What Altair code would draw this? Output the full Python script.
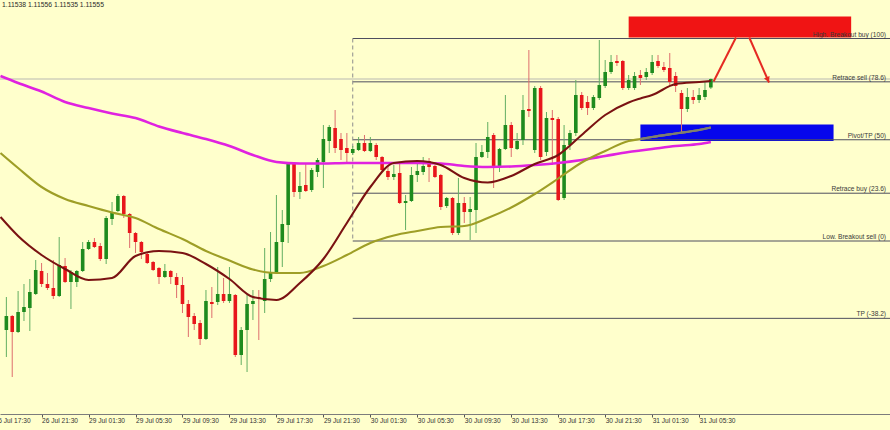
import json
import altair as alt
import pandas as pd

POINT = 1e-5  # price step (5th decimal)

# ---------------------------------------------------------------
# EURUSD M30 candles; bar 0 = 26 Jul 17:30, bar 2 is the first one drawn
# prices are kept in points (1.11555 -> 111555)
# ---------------------------------------------------------------
bars = list(range(2, 123))

open_pts = [
    111053, 111081, 111049, 111089, 111097, 111125, 111171, 111145, 111137, 111121,
    111181, 111149, 111149, 111171, 111215, 111229, 111221, 111195, 111275, 111291,
    111321, 111285, 111247, 111229, 111205, 111189, 111177, 111159, 111171, 111159,
    111143, 111105, 111081, 111067, 111035, 111109, 111109, 111125, 111111, 111123,
    111003, 111053, 111105, 111119, 111111, 111155, 111169, 111229, 111263, 111387,
    111329, 111343, 111333, 111369, 111389, 111431, 111457, 111435, 111417, 111407,
    111413, 111427, 111411, 111423, 111399, 111371, 111359, 111367, 111307, 111311,
    111363, 111369, 111391, 111381, 111363, 111301, 111317, 111247, 111307, 111289,
    111293, 111399, 111409, 111443, 111377, 111415, 111463, 111415, 111433, 111495,
    111413, 111537, 111409, 111477, 111475, 111317, 111423, 111447, 111523, 111509,
    111497, 111517, 111541, 111569, 111591, 111591, 111537, 111537, 111563, 111559,
    111567, 111591, 111579, 111577, 111561, 111527, 111495, 111519, 111513, 111519,
    111538,
]
high_pts = [
    111119, 111083, 111131, 111145, 111155, 111193, 111187, 111167, 111193, 111239,
    111197, 111173, 111173, 111229, 111233, 111237, 111227, 111281, 111309, 111325,
    111323, 111287, 111249, 111231, 111207, 111191, 111179, 111185, 111173, 111167,
    111159, 111113, 111087, 111073, 111133, 111139, 111179, 111157, 111179, 111125,
    111059, 111123, 111133, 111133, 111217, 111249, 111323, 111293, 111389, 111389,
    111369, 111387, 111377, 111397, 111463, 111463, 111493, 111447, 111447, 111421,
    111439, 111443, 111439, 111427, 111401, 111383, 111383, 111387, 111323, 111379,
    111389, 111399, 111397, 111383, 111365, 111319, 111319, 111357, 111319, 111319,
    111427, 111423, 111469, 111447, 111417, 111523, 111469, 111447, 111523, 111613,
    111541, 111541, 111489, 111493, 111479, 111463, 111453, 111553, 111529, 111521,
    111523, 111633, 111593, 111603, 111603, 111593, 111563, 111569, 111573, 111577,
    111603, 111603, 111589, 111607, 111569, 111533, 111537, 111533, 111537, 111549,
    111556,
]
low_pts = [
    110999, 110959, 111047, 111071, 111051, 111123, 111139, 111133, 111115, 111119,
    111147, 111095, 111139, 111169, 111213, 111217, 111191, 111185, 111263, 111289,
    111277, 111217, 111207, 111195, 111185, 111171, 111145, 111157, 111145, 111117,
    111087, 111039, 111053, 111023, 111033, 111077, 111103, 111107, 111107, 110999,
    110983, 110969, 111073, 111033, 111087, 111149, 111167, 111179, 111227, 111319,
    111315, 111329, 111329, 111359, 111337, 111407, 111407, 111393, 111389, 111403,
    111411, 111409, 111409, 111393, 111369, 111353, 111353, 111305, 111253, 111309,
    111349, 111363, 111349, 111357, 111293, 111297, 111243, 111243, 111267, 111233,
    111247, 111397, 111397, 111337, 111369, 111413, 111399, 111413, 111423, 111479,
    111407, 111393, 111401, 111383, 111311, 111313, 111413, 111441, 111493, 111483,
    111493, 111513, 111537, 111565, 111581, 111533, 111533, 111533, 111543, 111553,
    111563, 111577, 111569, 111543, 111529, 111449, 111489, 111505, 111507, 111513,
    111535,
]
close_pts = [
    111081, 111049, 111089, 111099, 111129, 111173, 111145, 111137, 111121, 111183,
    111149, 111169, 111171, 111215, 111229, 111219, 111195, 111277, 111289, 111321,
    111285, 111247, 111229, 111209, 111187, 111173, 111159, 111171, 111159, 111143,
    111105, 111079, 111065, 111035, 111111, 111105, 111125, 111111, 111125, 111003,
    111053, 111105, 111111, 111117, 111155, 111167, 111229, 111265, 111387, 111329,
    111341, 111331, 111373, 111393, 111435, 111459, 111417, 111413, 111407, 111415,
    111427, 111411, 111427, 111399, 111373, 111359, 111365, 111307, 111311, 111363,
    111371, 111381, 111379, 111359, 111299, 111317, 111247, 111307, 111289, 111295,
    111399, 111409, 111439, 111377, 111415, 111463, 111417, 111431, 111493, 111491,
    111537, 111399, 111477, 111473, 111313, 111423, 111447, 111523, 111497, 111497,
    111519, 111543, 111569, 111589, 111587, 111537, 111553, 111561, 111557, 111569,
    111589, 111581, 111573, 111549, 111541, 111495, 111519, 111513, 111523, 111533,
    111555,
]

# moving averages sampled at these bars
ma_bars = [1, 4, 8, 12, 16, 20, 24, 28, 32, 36, 40, 44, 48, 52, 56, 60, 64, 68,
           72, 76, 80, 84, 88, 92, 96, 100, 104, 108, 110, 112, 116, 120, 122]
ma_slow_pts = [111561, 111547, 111530, 111509, 111497, 111486, 111477, 111460, 111447,
               111435, 111421, 111403, 111389, 111386, 111386, 111387, 111387, 111387,
               111387, 111386, 111381, 111379, 111380, 111383, 111387, 111393, 111401,
               111409, 111412, 111415, 111421, 111425, 111429]
ma_mid_pts = [111407, 111377, 111339, 111315, 111301, 111288, 111277, 111255, 111235,
              111211, 111192, 111174, 111167, 111167, 111181, 111203, 111227, 111242,
              111251, 111259, 111261, 111277, 111298, 111325, 111356, 111388, 111411,
              111431, 111435, 111439, 111446, 111453, 111458]
ma_fast_pts = [111279, 111241, 111203, 111175, 111153, 111157, 111201, 111211, 111207,
               111185, 111155, 111119, 111113, 111147, 111195, 111267, 111339, 111387,
               111391, 111383, 111357, 111348, 111361, 111385, 111403, 111443, 111483,
               111508, 111516, 111523, 111545, 111549, 111551]

# time axis: one label every 8 bars (4 hours)
time_labels = ["26 Jul 17:30", "26 Jul 21:30", "29 Jul 01:30", "29 Jul 05:30",
               "29 Jul 09:30", "29 Jul 13:30", "29 Jul 17:30", "29 Jul 21:30",
               "30 Jul 01:30", "30 Jul 05:30", "30 Jul 09:30", "30 Jul 13:30",
               "30 Jul 17:30", "30 Jul 21:30", "31 Jul 01:30", "31 Jul 05:30"]
tick_bars = list(range(0, 121, 8))

# Fibonacci grid anchored on bar 61
fib_start_bar = 61
fib_high_pts = 111636
fib_low_pts = 111231
fib_ratios = [100, 78.6, 50, 23.6, 0, -38.2]
fib_names = ["High. Breakout buy", "Retrace sell", "Pivot/TP", "Retrace buy",
             "Low. Breakout sell", "TP"]

# drawn zones and the expected path
sell_zone = {"bar0": 108.0, "bar1": 145.9, "top": 111680, "bottom": 111638}
buy_zone = {"bar0": 110.0, "bar1": 142.9, "top": 111464, "bottom": 111431}
path_bar_from = [122.47, 128.54]
path_bar_to = [126.28, 131.91]
path_from_pts = [111550, 111638]
path_to_pts = [111638, 111548]

# ---------------------------------------------------------------
BG = "#FFFFCC"
UP, DOWN = "#1E8B1E", "#E8161B"
UP_WICK, DOWN_WICK = "#62AE62", "#DE6E6E"
ARROW = "#E52A22"
FONT = "Liberation Sans"

W, H = 890, 414
BAR_PX = 5.9375
BAR0_PX = -10.5
TOP_PTS = 111713
PTS_PER_PX = 2


def px(pts):
    return [round(p * POINT, 5) for p in pts]


candles = pd.DataFrame({
    "bar": bars,
    "open": px(open_pts),
    "high": px(high_pts),
    "low": px(low_pts),
    "close": px(close_pts),
})


def ma_frame(vals):
    return pd.DataFrame({"bar": ma_bars, "value": px(vals)})


fib_hi, fib_lo = fib_high_pts * POINT, fib_low_pts * POINT
fib = pd.DataFrame({
    "start": [fib_start_bar] * len(fib_ratios),
    "price": [fib_lo + (fib_hi - fib_lo) * r / 100 for r in fib_ratios],
    "label": [f"{n} ({r:g})" for n, r in zip(fib_names, fib_ratios)],
})

path = pd.DataFrame({
    "bar": path_bar_from, "bar2": path_bar_to,
    "p": px(path_from_pts), "p2": px(path_to_pts),
})

x_scale = alt.Scale(domain=[(0 - BAR0_PX) / BAR_PX, (W - BAR0_PX) / BAR_PX],
                    nice=False, zero=False)
y_scale = alt.Scale(domain=[(TOP_PTS - PTS_PER_PX * H) * POINT, TOP_PTS * POINT],
                    nice=False, zero=False)

x_axis = alt.Axis(
    values=tick_bars[1:],
    labelExpr=f"{json.dumps(time_labels)}[round(datum.value / 8)]",
    title=None, grid=False,
    domainColor="#7C7C7C", domainWidth=1,
    tickColor="#555555", tickSize=3, tickWidth=1,
    labelFont=FONT, labelFontSize=6.6, labelColor="#333333",
    labelAlign="left", labelBaseline="top", labelPadding=0.5,
    labelFlush=False, labelOverlap=False, labelBound=False,
)


def X(field):
    return alt.X(field, type="quantitative", scale=x_scale, axis=x_axis)


def Y(field):
    return alt.Y(field, type="quantitative", scale=y_scale, axis=None)


last = candles.iloc[-1]

bid_line = alt.Chart(pd.DataFrame({"price": [last["close"]]})).mark_rule(
    color="#B9B9B2", strokeWidth=1
).encode(y=Y("price"))


def zone_rect(zone, colour):
    df = pd.DataFrame({"bar0": [zone["bar0"]], "bar1": [zone["bar1"]],
                       "top": [zone["top"] * POINT], "bottom": [zone["bottom"] * POINT]})
    return alt.Chart(df).mark_rect(color=colour).encode(
        x=X("bar0"), x2="bar1", y=Y("top"), y2="bottom"
    )


sell_rect = zone_rect(sell_zone, "#F01414")
buy_rect = zone_rect(buy_zone, "#0606EC")

fib_lines = alt.Chart(fib).mark_rule(color="#4E4E5E", strokeWidth=1).encode(
    x=X("start"), x2=alt.value(W), y=Y("price")
)

fib_anchor = alt.Chart(pd.DataFrame({"bar": [fib_start_bar], "hi": [fib_hi], "lo": [fib_lo]})).mark_rule(
    color="#8E8E8E", strokeWidth=1, strokeDash=[4, 3]
).encode(x=X("bar"), y=Y("hi"), y2="lo")

is_up = "datum.close >= datum.open"
wicks = alt.Chart(candles).mark_rule(strokeWidth=1).encode(
    x=X("bar"), y=Y("low"), y2="high",
    color=alt.condition(is_up, alt.value(UP_WICK), alt.value(DOWN_WICK)),
)
bodies = alt.Chart(candles).mark_bar(size=3.6).encode(
    x=X("bar"), y=Y("open"), y2="close",
    color=alt.condition(is_up, alt.value(UP), alt.value(DOWN)),
)


def ma_line(vals, colour, width):
    return alt.Chart(ma_frame(vals)).mark_line(
        interpolate="monotone", clip=True, color=colour, strokeWidth=width
    ).encode(x=X("bar"), y=Y("value"))


ma_slow = ma_line(ma_slow_pts, "#E022E0", 2.6)
ma_mid = ma_line(ma_mid_pts, "#9E9E26", 2.1)
ma_fast = ma_line(ma_fast_pts, "#7A1212", 2.1)
# the medium average looks grey where it crosses the blue zone
ma_mid_in_zone = alt.Chart(ma_frame(ma_mid_pts)).transform_filter(
    alt.datum.bar >= buy_zone["bar0"]
).mark_line(interpolate="monotone", color="#7E7E72", strokeWidth=2.1).encode(
    x=X("bar"), y=Y("value")
)

path_lines = alt.Chart(path).mark_rule(color=ARROW, strokeWidth=2).encode(
    x=X("bar"), x2="bar2", y=Y("p"), y2="p2"
)
path_head = alt.Chart(path.tail(1)).mark_point(
    shape="triangle-up", filled=True, size=38, angle=156, color=ARROW,
    opacity=1, xOffset=-1.2, yOffset=-2.7,
).encode(x=X("bar2"), y=Y("p2"))

fib_text = alt.Chart(fib).mark_text(
    align="right", baseline="alphabetic", dy=-2, font=FONT, fontSize=6.6,
    color="#3A3A3A",
).encode(x=alt.value(886), y=Y("price"), text="label:N")

header = f"{last['open']:.5f} {last['high']:.5f} {last['low']:.5f} {last['close']:.5f}"
header_text = alt.Chart(pd.DataFrame({"t": [header]})).mark_text(
    align="left", baseline="middle", font=FONT, fontSize=6.8, color="#2A2A2A"
).encode(x=alt.value(2), y=alt.value(5), text="t:N")

first_label = alt.Chart(pd.DataFrame({"bar": [tick_bars[0]], "t": [time_labels[0]]})).mark_text(
    align="left", baseline="top", font=FONT, fontSize=6.6, color="#333333"
).encode(x=X("bar"), y=alt.value(H + 3.5), text="t:N")

chart = alt.layer(
    bid_line, sell_rect, buy_rect, fib_lines, fib_anchor, wicks, bodies,
    ma_slow, ma_mid, ma_mid_in_zone, ma_fast,
    path_lines, path_head, fib_text, header_text, first_label,
).properties(
    width=W, height=H, background=BG,
    padding={"left": 0, "top": 0, "right": 0, "bottom": 16},
    autosize=alt.AutoSizeParams(type="none"),
).configure_view(stroke=None, fill=BG)

chart.save("out.html", embed_options={"renderer": "svg", "actions": False})
